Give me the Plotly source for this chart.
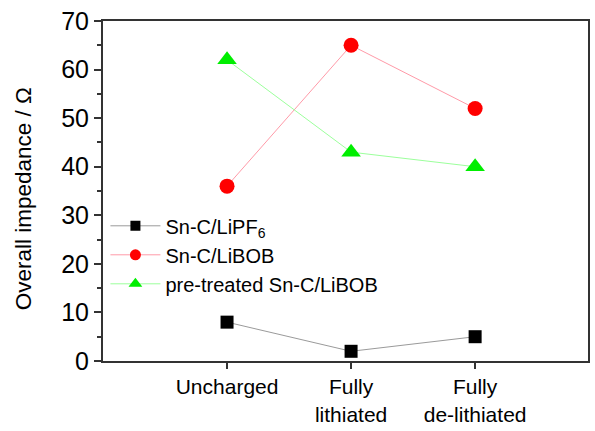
import plotly.graph_objects as go

categories = ["Uncharged", "Fully<br>lithiated", "Fully<br>de-lithiated"]
x_pos = [1, 2, 3]
lipf6 = [8, 2, 5]
libob = [36, 65, 52]
pretreated = [62, 43, 40]

series = [
    ("Sn-C/LiPF<sub>6</sub>", lipf6, "#9a9a9a", "square", 13, 10, "black"),
    ("Sn-C/LiBOB", libob, "#ff9aa8", "circle", 15, 11, "#ff0000"),
    ("pre-treated Sn-C/LiBOB", pretreated, "#9cff9c", "triangle-up", 17, 12, "#00ee00"),
]

fig = go.Figure()
for name, vals, lc, sym, size, lsize, mc in series:
    fig.add_trace(go.Scatter(x=x_pos, y=vals, mode="lines+markers", name=name, showlegend=False,
                             line=dict(color=lc, width=1),
                             marker=dict(symbol=sym, size=size, color=mc)))
for name, vals, lc, sym, size, lsize, mc in series:
    fig.add_trace(go.Scatter(x=[None], y=[None], mode="lines+markers", name=name,
                             line=dict(color=lc, width=1),
                             marker=dict(symbol=sym, size=lsize, color=mc)))

font = "Arial, Liberation Sans, sans-serif"
fig.update_layout(
    width=595, height=431,
    margin=dict(l=103, r=5, t=21, b=68),
    paper_bgcolor="white", plot_bgcolor="white",
    font=dict(family=font, color="black"),
    showlegend=True,
    legend=dict(x=0.005, y=0.455, xanchor="left", yanchor="top",
                font=dict(size=20, family=font), bgcolor="rgba(0,0,0,0)",
                tracegroupgap=0, itemwidth=50),
    xaxis=dict(range=[0, 3.91], tickmode="array", tickvals=x_pos, ticktext=categories,
               showgrid=False, zeroline=False, showline=True, linecolor="#333", linewidth=2,
               mirror=True, ticks="outside", ticklen=6, tickwidth=1.5, tickcolor="#333",
               tickfont=dict(size=21, family=font)),
    yaxis=dict(range=[0, 70], tickmode="array", tickvals=[0, 10, 20, 30, 40, 50, 60, 70],
               showgrid=False, zeroline=False, showline=True, linecolor="#333", linewidth=2,
               mirror=True, ticks="outside", ticklen=7, tickwidth=1.5, tickcolor="#333",
               tickfont=dict(size=25, family=font),
               minor=dict(tickvals=[5, 15, 25, 35, 45, 55, 65], ticks="outside", ticklen=4,
                          tickwidth=1.5, tickcolor="#333")),
    annotations=[dict(text="Overall impedance / Ω", textangle=-90, showarrow=False,
                      xref="paper", yref="paper", x=-0.164, y=0.477,
                      xanchor="center", yanchor="middle",
                      font=dict(size=22.5, family=font))],
)
fig.write_html("out.html")
